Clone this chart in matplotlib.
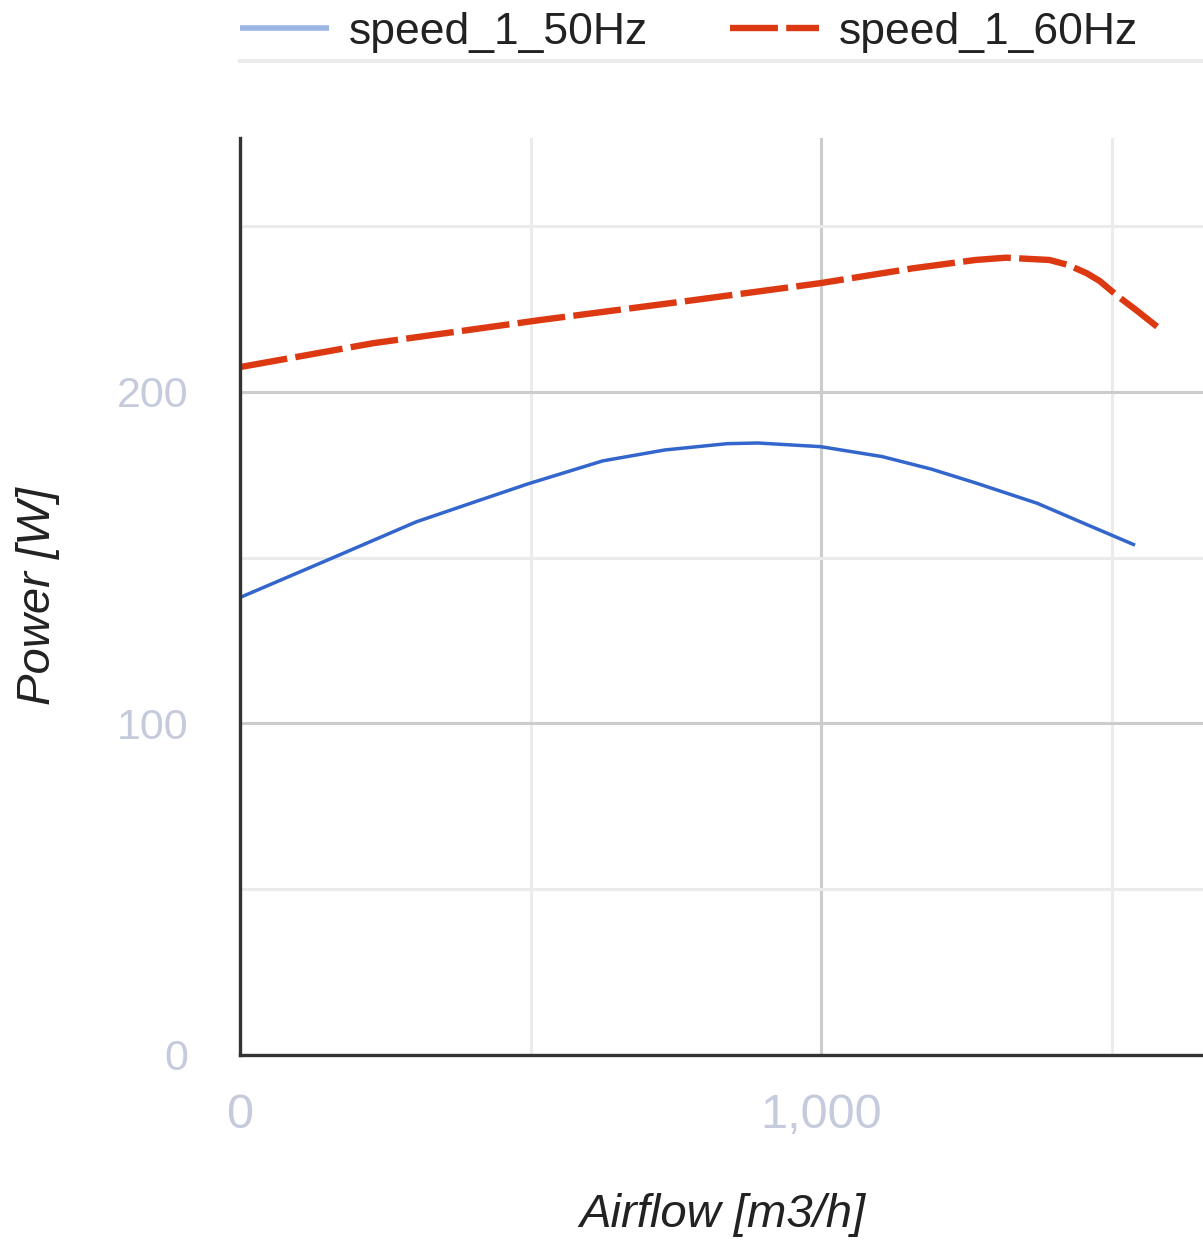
import matplotlib
matplotlib.use("Agg")
import matplotlib.pyplot as plt
from matplotlib.lines import Line2D
from matplotlib.ticker import FixedLocator, FuncFormatter

# --- data -----------------------------------------------------------------
airflow_50 = [0, 164, 303, 410, 496, 624, 731, 838, 891, 999, 1105, 1190, 1265, 1372, 1457, 1540]
power_50   = [138, 150.3, 160.8, 167.2, 172.3, 179.2, 182.5, 184.4, 184.6, 183.5, 180.5,
              176.7, 172.6, 166.4, 160.0, 153.8]

airflow_60 = [0, 229, 517, 785, 998, 1158, 1265, 1318, 1393, 1425, 1457, 1479, 1511, 1542, 1578]
power_60   = [207.5, 214.7, 221.7, 227.8, 232.8, 237.3, 239.8, 240.5, 239.8, 238.3, 235.8,
              233.5, 228.8, 224.7, 219.7]

series_names = ["speed_1_50Hz", "speed_1_60Hz"]
x_label = "Airflow [m3/h]"
y_label = "Power [W]"
x_major = [0, 1000]
x_minor = [500, 1500]
y_major = [0, 100, 200]
y_minor = [50, 150, 250]

plt.rcParams["font.family"] = ["Liberation Sans", "DejaVu Sans"]

BLUE = "#3366cc"
RED = "#dc3912"
TICK = "#c5cbdc"

fig = plt.figure(figsize=(12.03, 12.45), dpi=100)
ax = fig.add_axes([240 / 1203, 1 - 1055 / 1245, 1 - 240 / 1203, (1055 - 138) / 1245])

ax.plot(airflow_50, power_50, color=BLUE, lw=2.5, label=series_names[0],
        solid_capstyle="butt", solid_joinstyle="round")
ax.plot(airflow_60, power_60, color=RED, lw=4.6, label=series_names[1],
        dashes=(7.5, 1.3), dash_capstyle="butt", dash_joinstyle="round")

ax.set_xlim(0, 1657)
ax.set_ylim(0, 276.6)

ax.xaxis.set_major_locator(FixedLocator(x_major))
ax.xaxis.set_minor_locator(FixedLocator(x_minor))
ax.yaxis.set_major_locator(FixedLocator(y_major))
ax.yaxis.set_minor_locator(FixedLocator(y_minor))
ax.xaxis.set_major_formatter(FuncFormatter(lambda v, p: f"{int(v):,}"))

ax.grid(True, which="major", color="#cccccc", lw=2.2)
ax.grid(True, which="minor", color="#ebebeb", lw=2.2)
ax.set_axisbelow(True)
ax.tick_params(which="both", length=0)
ax.tick_params(axis="y", pad=37, labelsize=31, labelcolor=TICK)
ax.tick_params(axis="x", pad=27, labelsize=35, labelcolor=TICK)

for side in ["top", "right"]:
    ax.spines[side].set_visible(False)
for side in ["left", "bottom"]:
    ax.spines[side].set_color("#333333")
    ax.spines[side].set_linewidth(2.4)

ax.set_xlabel(x_label, fontsize=34, style="italic", color="#222222")
ax.xaxis.set_label_coords((722 - 240) / 963, -(1215 - 1055) / 917)
ax.xaxis.label.set_va("center")
ax.set_ylabel(y_label, fontsize=34, style="italic", color="#222222")
ax.yaxis.set_label_coords(-(240 - 38) / 963, (1055 - 596) / 917)
ax.yaxis.label.set_va("center")

leg = ax.legend(loc="upper left", bbox_to_anchor=(240 / 1203, 1 - 12 / 1245),
                bbox_transform=fig.transFigure, ncol=2, frameon=False,
                prop={"size": 32},
                handlelength=2.0, handletextpad=0.45, columnspacing=1.85,
                borderpad=0, borderaxespad=0)
for t in leg.get_texts():
    t.set_color("#222222")
leg.legend_handles[0].set_color("#9bb5e3")
leg.legend_handles[0].set_linewidth(4.0)

fig.add_artist(Line2D([240 / 1203, 1.0], [1 - 61 / 1245] * 2,
                      transform=fig.transFigure, color="#ebebeb", lw=3))

fig.savefig("out.png", dpi=100)
